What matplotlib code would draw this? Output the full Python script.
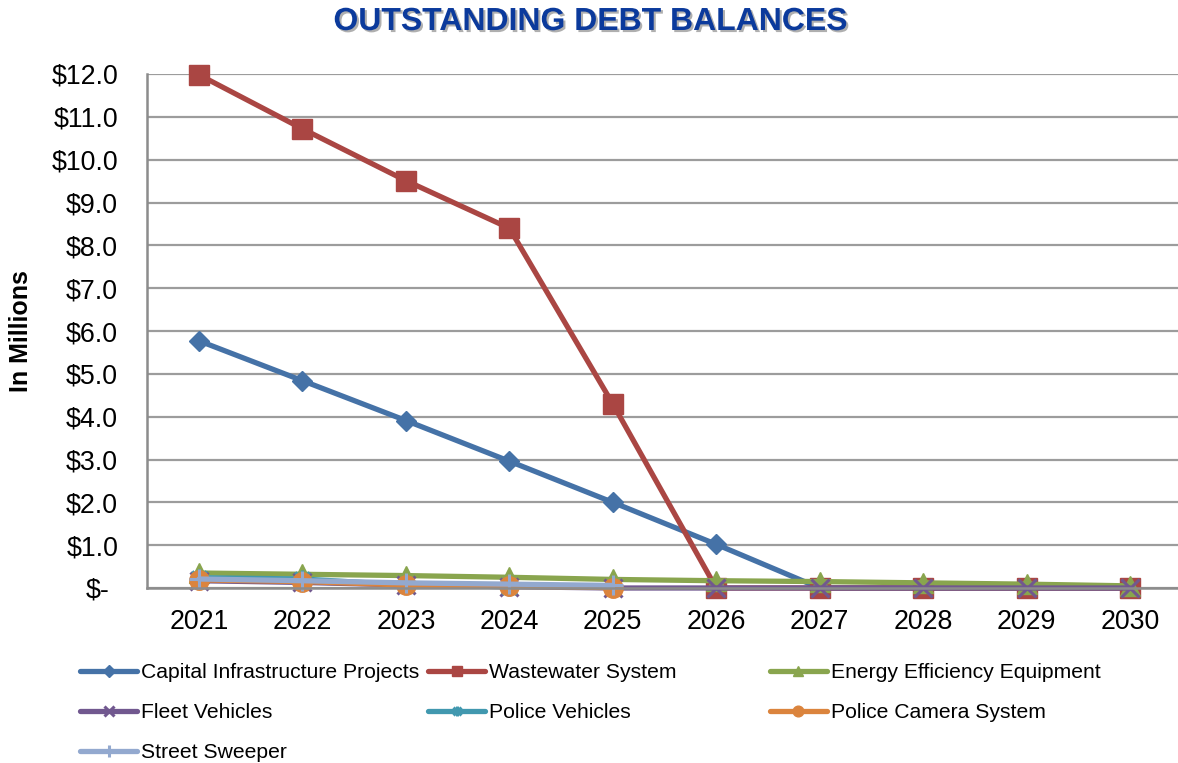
import matplotlib
matplotlib.use("Agg")
import matplotlib.pyplot as plt
import matplotlib.patheffects as pe
from matplotlib.path import Path
import numpy as np

plt.rcParams['font.family'] = ['Liberation Sans', 'DejaVu Sans']

years = ['2021', '2022', '2023', '2024', '2025', '2026', '2027', '2028', '2029', '2030']
nan = np.nan
capital_infrastructure = [5.77, 4.84, 3.91, 2.96, 2.00, 1.02, 0.0, 0.0, 0.0, 0.0]
wastewater_system = [11.98, 10.72, 9.51, 8.40, 4.30, 0.0, 0.0, 0.0, 0.0, 0.0]
energy_efficiency = [0.35, 0.32, 0.29, 0.25, 0.20, 0.17, 0.15, 0.12, 0.09, 0.05]
fleet_vehicles = [0.17, 0.13, 0.07, 0.03, 0.0, 0.0, 0.0, 0.0, 0.0, 0.0]
police_vehicles = [0.24, 0.21, 0.07, 0.03, nan, nan, nan, nan, nan, nan]
police_camera = [0.19, 0.15, 0.07, 0.04, 0.01, nan, nan, nan, nan, nan]
street_sweeper = [0.21, 0.17, 0.12, 0.09, 0.06, nan, nan, nan, nan, nan]

y_ticks = list(range(0, 13))
y_tick_labels = ['$-'] + [f'${v:.1f}' for v in y_ticks[1:]]

# Asterisk-style marker: an X crossed with a vertical stroke
star_path = Path(
    [(-1, -1), (1, 1), (-1, 1), (1, -1), (0, -1.25), (0, 1.25)],
    [Path.MOVETO, Path.LINETO, Path.MOVETO, Path.LINETO, Path.MOVETO, Path.LINETO],
)

series = [
    ('Capital Infrastructure Projects', capital_infrastructure, '#4572A7', 'D', 10.5),
    ('Wastewater System', wastewater_system, '#AA4643', 's', 14),
    ('Energy Efficiency Equipment', energy_efficiency, '#89A54E', '^', 14),
    ('Fleet Vehicles', fleet_vehicles, '#71588F', 'x', 13),
    ('Police Vehicles', police_vehicles, '#4198AF', star_path, 13),
    ('Police Camera System', police_camera, '#DB843D', 'o', 14),
    ('Street Sweeper', street_sweeper, '#93A9CF', '+', 15),
]

W, H = 1178, 763
fig = plt.figure(figsize=(W / 100, H / 100), dpi=100)
left, right, bottom, top = 147.3, 1181.7, 588, 74
ax = fig.add_axes([left / W, 1 - bottom / H, (right - left) / W, (bottom - top) / H])

x = np.arange(len(years))
handles = []
for name, vals, color, marker, ms in series:
    line_markers = marker in ('x', '+') or isinstance(marker, Path)
    h, = ax.plot(x, vals, color=color, lw=3.8, marker=marker, markersize=ms,
                 markerfacecolor=color, markeredgecolor=color,
                 markeredgewidth=2.2 if line_markers else 1.0,
                 clip_on=False, solid_capstyle='round', label=name)
    handles.append(h)

ax.set_xlim(-0.5, len(years) - 0.5)
ax.set_ylim(0, 12)
ax.set_xticks(x)
ax.set_xticklabels(years)
ax.set_yticks(y_ticks)
ax.set_yticklabels(y_tick_labels)
ax.tick_params(axis='x', length=0, pad=15, labelsize=19.3, colors='#000000')
ax.tick_params(axis='y', length=0, pad=21, labelsize=19.3, colors='#000000')
ax.yaxis.get_major_ticks()[0].set_pad(27)

ax.set_axisbelow(True)
ax.yaxis.grid(True, color='#9c9c9c', lw=1.6)
ax.xaxis.grid(False)
for side in ('top', 'right'):
    ax.spines[side].set_visible(False)
for side in ('left', 'bottom'):
    ax.spines[side].set_color('#8c8c8c')
    ax.spines[side].set_linewidth(1.8)

fig.text(21 / W, 1 - 331 / H, 'In Millions', rotation=90, ha='center', va='center',
         fontsize=18, fontweight='bold', color='#000000')

fig.text(591 / W, 1 - 22 / H, 'OUTSTANDING DEBT BALANCES', ha='center', va='center',
         fontsize=23, fontweight='bold', color='#0B3A9C',
         path_effects=[pe.withSimplePatchShadow(offset=(1.5, -1.5),
                                                shadow_rgbFace='#7a7a7a', alpha=0.6)])

# Legend laid out as three columns
columns = [
    (80, [handles[0], handles[3], handles[6]]),
    (428, [handles[1], handles[4]]),
    (770, [handles[2], handles[5]]),
]
for xpx, hs in columns:
    fig.legend(handles=hs, labels=[h.get_label() for h in hs], loc='upper left',
               bbox_to_anchor=(xpx / W, 1 - 663 / H), frameon=False,
               fontsize=15.2, handlelength=2.7, handletextpad=0.2, borderpad=0,
               borderaxespad=0, labelspacing=1.0, markerscale=0.55)

fig.savefig('out.png', dpi=100)
